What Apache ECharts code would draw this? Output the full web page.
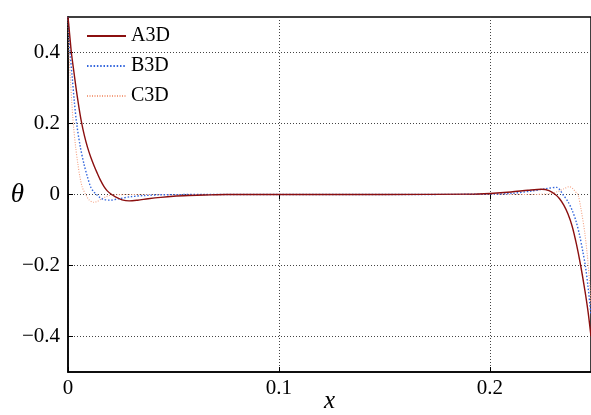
<!DOCTYPE html>
<html><head><meta charset="utf-8">
<script src="https://cdn.jsdelivr.net/npm/echarts@6/dist/echarts.min.js"></script>
<style>html,body{margin:0;padding:0;background:#fff}#c{width:591px;height:415px}</style>
</head><body><div id="c"></div>
<script>
const xTicks = [0, 0.1, 0.2];
const yTicks = [-0.4, -0.2, 0, 0.2, 0.4];

const aX = [0, 0.0008, 0.0016, 0.0028, 0.004, 0.0052, 0.0063, 0.0078, 0.0093, 0.0108, 0.0123, 0.0138, 0.0155, 0.017, 0.0185, 0.0202, 0.0225, 0.0256, 0.029, 0.033, 0.038, 0.044, 0.050, 0.057, 0.065, 0.075, 0.10, 0.15, 0.19, 0.20, 0.21, 0.218, 0.2245, 0.228, 0.231, 0.233, 0.235, 0.237, 0.239, 0.241, 0.243, 0.245, 0.2465, 0.2479];
const aY = [0.5, 0.45, 0.4, 0.345, 0.292, 0.245, 0.207, 0.165, 0.132, 0.105, 0.082, 0.061, 0.039, 0.023, 0.011, 0.002, -0.007, -0.015, -0.018, -0.016, -0.012, -0.008, -0.005, -0.003, -0.0015, 0, 0, 0, 0.001, 0.003, 0.007, 0.012, 0.015, 0.011, 0.0, -0.012, -0.03, -0.055, -0.09, -0.14, -0.2, -0.27, -0.33, -0.4];

const bX = [0, 0.0005, 0.001, 0.002, 0.003, 0.0041, 0.0058, 0.0076, 0.0092, 0.0107, 0.012, 0.0135, 0.015, 0.017, 0.020, 0.024, 0.030, 0.036, 0.043, 0.052, 0.065, 0.10, 0.15, 0.20, 0.21, 0.22, 0.226, 0.2316, 0.233, 0.2346, 0.237, 0.239, 0.2408, 0.2425, 0.244, 0.2452, 0.2465, 0.2479];
const bY = [0.5, 0.45, 0.4, 0.33, 0.262, 0.2, 0.135, 0.085, 0.05, 0.022, 0.009, 0.0, -0.008, -0.014, -0.016, -0.012, -0.006, -0.003, -0.001, -0.0003, 0, 0, 0, 0.001, 0.003, 0.01, 0.016, 0.02, 0.014, 0.0, -0.02, -0.045, -0.075, -0.115, -0.16, -0.2, -0.26, -0.34];

const cX = [0, 0.0005, 0.0012, 0.0018, 0.0025, 0.0036, 0.0047, 0.0057, 0.0068, 0.0084, 0.010, 0.012, 0.014, 0.016, 0.018, 0.020, 0.024, 0.030, 0.10, 0.15, 0.22, 0.228, 0.232, 0.235, 0.2376, 0.239, 0.2405, 0.2417, 0.243, 0.245, 0.2466, 0.2479];
const cY = [0.5, 0.4, 0.32, 0.26, 0.2, 0.135, 0.085, 0.048, 0.02, 0.0, -0.015, -0.022, -0.019, -0.012, -0.006, -0.002, -0.0005, 0, 0, 0, 0, 0.002, 0.008, 0.016, 0.022, 0.018, 0.008, 0.0, -0.035, -0.11, -0.2, -0.31];

const pairs = (xs, ys) => xs.map((x, i) => [x, ys[i]]);
const serif = '"Liberation Serif", "DejaVu Serif", serif';
const fmt = v => (v < 0 ? '\u2212' : '') + (v === 0 ? '0' : String(Math.abs(+v.toFixed(2))));

const chart = echarts.init(document.getElementById('c'), null, {renderer: 'canvas'});
chart.setOption({
  animation: false,
  backgroundColor: '#fff',
  grid: {left: 68, right: 0, top: 17, bottom: 43, outerBoundsMode: 'none', containLabel: false,
         show: true, borderColor: '#000', borderWidth: 1.5, backgroundColor: 'transparent'},
  legend: {
    left: 86, top: 26, orient: 'vertical', padding: 0, itemWidth: 39, itemHeight: 20, itemGap: 10,
    itemStyle: {opacity: 0},
    textStyle: {fontFamily: serif, fontSize: 20, color: '#000', lineHeight: 20},
    data: ['A3D', 'B3D', 'C3D']
  },
  xAxis: [{
    type: 'value', min: 0, max: 0.2479,
    name: 'x', nameLocation: 'middle', nameGap: 17, nameMoveOverlap: false,
    nameTextStyle: {fontFamily: serif, fontStyle: 'italic', fontSize: 25, color: '#000'},
    axisLine: {show: true, onZero: false, lineStyle: {color: '#000', width: 1.5}},
    axisTick: {show: true, inside: true, length: 5, customValues: xTicks, lineStyle: {color: '#000', width: 1}},
    axisLabel: {customValues: xTicks, fontFamily: serif, fontSize: 21, color: '#000', margin: 6, formatter: fmt},
    splitLine: {show: true, lineStyle: {color: '#444', type: [1, 2], width: 1}}
  }, {
    type: 'value', min: 0, max: 0.2479, position: 'top',
    axisLine: {show: false},
    axisTick: {show: true, inside: true, length: 5, customValues: xTicks, lineStyle: {color: '#000', width: 1}},
    axisLabel: {show: false}, splitLine: {show: false}
  }],
  yAxis: {
    type: 'value', min: -0.5, max: 0.5,
    name: '\u03b8', nameLocation: 'middle', nameGap: 44, nameRotate: 0, nameMoveOverlap: false,
    nameTextStyle: {fontFamily: serif, fontStyle: 'italic', fontSize: 27, color: '#000'},
    axisLine: {show: true, onZero: false, lineStyle: {color: '#000', width: 1.5}},
    axisTick: {show: true, inside: true, length: 5, customValues: yTicks, lineStyle: {color: '#000', width: 1}},
    axisLabel: {customValues: yTicks, fontFamily: serif, fontSize: 21, color: '#000', margin: 8, formatter: fmt},
    splitLine: {show: true, lineStyle: {color: '#444', type: [1, 2], width: 1}}
  },
  series: [
    {name: 'A3D', type: 'line', data: pairs(aX, aY), symbol: 'none', smooth: 0.3, z: 3,
     lineStyle: {color: '#8b0f0f', width: 1.4, type: 'solid'}, itemStyle: {color: '#8b0f0f'}},
    {name: 'B3D', type: 'line', data: pairs(bX, bY), symbol: 'none', smooth: 0.3, z: 2,
     lineStyle: {color: '#3366dd', width: 1.4, type: [1.5, 1.8]}, itemStyle: {color: '#3366dd'}},
    {name: 'C3D', type: 'line', data: pairs(cX, cY), symbol: 'none', smooth: 0.3, z: 1,
     lineStyle: {color: '#f4a080', width: 1.1, type: [1, 1.5]}, itemStyle: {color: '#f4a080'}}
  ]
});
</script></body></html>
